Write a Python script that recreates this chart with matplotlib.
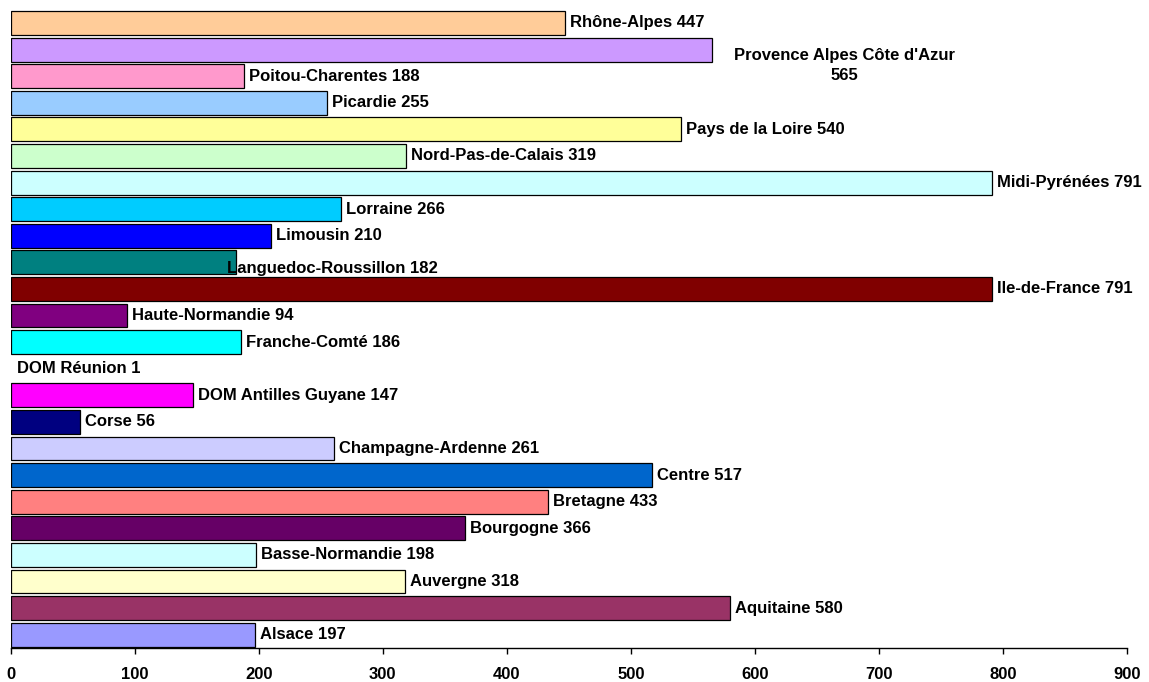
import matplotlib
matplotlib.use("Agg")
import matplotlib.pyplot as plt

# regions, bottom to top as in the chart
regions = [
    "Alsace", "Aquitaine", "Auvergne", "Basse-Normandie", "Bourgogne",
    "Bretagne", "Centre", "Champagne-Ardenne", "Corse", "DOM Antilles Guyane",
    "DOM Réunion", "Franche-Comté", "Haute-Normandie", "Ile-de-France",
    "Languedoc-Roussillon", "Limousin", "Lorraine", "Midi-Pyrénées",
    "Nord-Pas-de-Calais", "Pays de la Loire", "Picardie", "Poitou-Charentes",
    "Provence Alpes Côte d'Azur", "Rhône-Alpes",
]
values = [
    197, 580, 318, 198, 366,
    433, 517, 261, 56, 147,
    1, 186, 94, 791,
    182, 210, 266, 791,
    319, 540, 255, 188,
    565, 447,
]
colors = [
    "#9999FF", "#993366", "#FFFFCC", "#CCFFFF", "#660066",
    "#FF8080", "#0066CC", "#CCCCFF", "#000080", "#FF00FF",
    "#FFFFFF", "#00FFFF", "#800080", "#800000",
    "#008080", "#0000FF", "#00CCFF", "#CCFFFF",
    "#CCFFCC", "#FFFF99", "#99CCFF", "#FF99CC",
    "#CC99FF", "#FFCC99",
]
xticks = [0, 100, 200, 300, 400, 500, 600, 700, 800, 900]

plt.rcParams["font.family"] = ["Liberation Sans", "DejaVu Sans"]
plt.rcParams["font.weight"] = "bold"

fig = plt.figure(figsize=(11.49, 6.82), dpi=100)
ax = fig.add_axes([0.0093, 0.0499, 0.9717, 0.9359])

ypos = list(range(len(regions)))
# a 1-unit bar is too thin to show its outline in the original
edges = ["none" if v < 2 else "black" for v in values]
ax.barh(ypos, values, height=0.9, color=colors, edgecolor=edges, linewidth=0.9)

for y, name, v in zip(ypos, regions, values):
    label = f"{name} {v}"
    dx, dy, ha = 5, 0, "left"
    if name.startswith("Provence"):
        # Excel wrapped this one and pushed it right
        label = f"{name}\n{v}"
        dx, dy, ha = 133, -16, "center"
    elif name.startswith("Languedoc"):
        dx, dy = -9, -6
    ax.annotate(label, (v, y), xytext=(dx, dy), textcoords="offset pixels",
                ha=ha, va="center", fontsize=12, fontweight="bold",
                multialignment="center", linespacing=1.45)

ax.set_xlim(0, 900)
ax.set_ylim(-0.5, 23.5)
ax.set_xticks(xticks)
ax.set_xticklabels([str(t) for t in xticks], fontsize=12, fontweight="bold")
ax.set_yticks([])
ax.tick_params(axis="x", direction="out", length=4, width=1, pad=10)
for side in ["left", "right", "top"]:
    ax.spines[side].set_visible(False)
ax.spines["bottom"].set_linewidth(1)

fig.savefig("out.png", dpi=100)
